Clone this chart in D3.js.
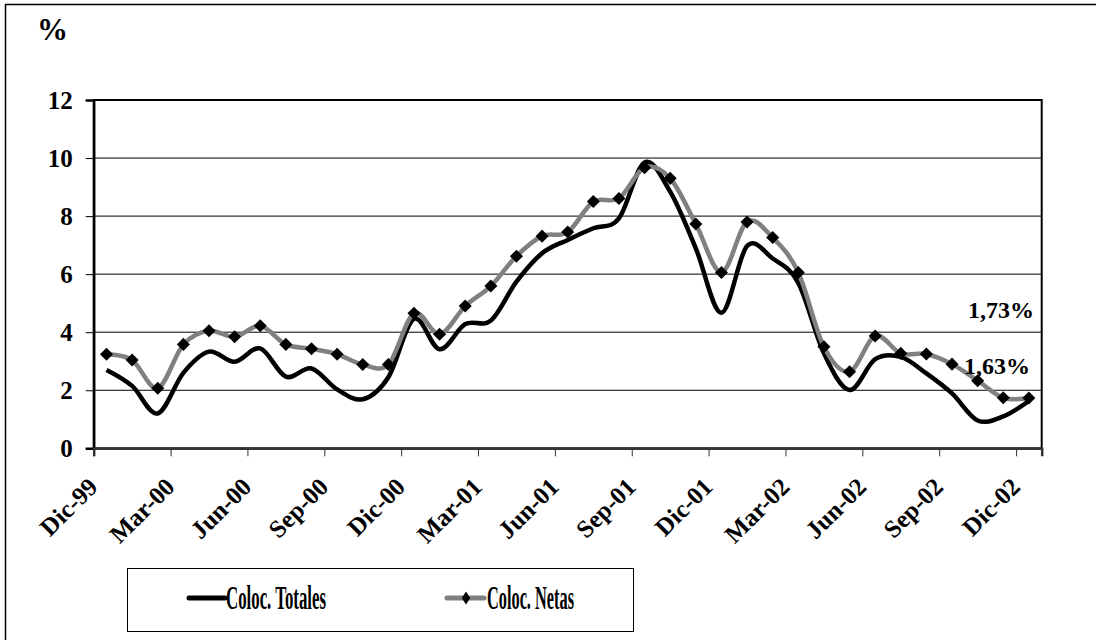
<!DOCTYPE html>
<html>
<head>
<meta charset="utf-8">
<script src="https://cdnjs.cloudflare.com/ajax/libs/d3/7.8.5/d3.min.js"></script>
<title>Colocaciones</title>
<style>
  body{ margin: 0; background-color: #fff; }
  text{ font-family: "Liberation Serif", "Times New Roman", serif; font-weight: bold; fill: #000; }
</style>
</head>
<body>
<script>
var cats = ["Dic-99","Ene-00","Feb-00","Mar-00","Abr-00","May-00","Jun-00","Jul-00","Ago-00","Sep-00","Oct-00","Nov-00",
            "Dic-00","Ene-01","Feb-01","Mar-01","Abr-01","May-01","Jun-01","Jul-01","Ago-01","Sep-01","Oct-01","Nov-01",
            "Dic-01","Ene-02","Feb-02","Mar-02","Abr-02","May-02","Jun-02","Jul-02","Ago-02","Sep-02","Oct-02","Nov-02","Dic-02"];

var totales = [2.70, 2.15, 1.20, 2.60, 3.33, 2.98, 3.44, 2.47, 2.75, 2.03, 1.69, 2.45,
               4.46, 3.41, 4.28, 4.40, 5.74, 6.72, 7.18, 7.58, 7.92, 9.85, 8.84, 6.89,
               4.67, 6.97, 6.54, 5.70, 3.27, 2.01, 3.07, 3.15, 2.58, 1.89, 0.96, 1.10, 1.63];

var netas   = [3.24, 3.04, 2.07, 3.58, 4.05, 3.84, 4.22, 3.58, 3.43, 3.24, 2.89, 2.89,
               4.65, 3.93, 4.90, 5.59, 6.62, 7.31, 7.45, 8.50, 8.61, 9.67, 9.30, 7.73,
               6.06, 7.80, 7.26, 6.06, 3.50, 2.64, 3.87, 3.27, 3.25, 2.90, 2.33, 1.74, 1.73];

var yTicks = [0, 2, 4, 6, 8, 10, 12];
var xTicks = [0, 3, 6, 9, 12, 15, 18, 21, 24, 27, 30, 33, 36];
var seriesNames = ["Coloc. Totales", "Coloc. Netas"];
var endLabels = ["1,73%", "1,63%"];

var w = 1096, h = 640,
    pLeft = 93.7, pRight = 1041.7, pTop = 100, pBottom = 448.3;

var svg = d3.select("body").append("svg")
    .attr("width", w)
    .attr("height", h);

svg.append("rect").attr("width", w).attr("height", h).attr("fill", "#fff");

// outer chart border (runs off the right and bottom edge)
svg.append("path")
    .attr("d", "M5.5," + h + "V4.5H" + w)
    .attr("fill", "none").attr("stroke", "#000").attr("stroke-width", 1.5);

var x = d3.scaleLinear().domain([0, cats.length]).range([pLeft, pRight]);
var y = d3.scaleLinear().domain([0, 12]).range([pBottom, pTop]);

// gridlines
svg.append("g").selectAll("line")
  .data(yTicks.slice(1, -1))
  .enter().append("line")
    .attr("x1", pLeft).attr("x2", pRight)
    .attr("y1", function(d){ return y(d); })
    .attr("y2", function(d){ return y(d); })
    .attr("stroke", "#000").attr("stroke-width", 1);

// plot frame
svg.append("rect")
    .attr("x", pLeft).attr("y", pTop)
    .attr("width", pRight - pLeft).attr("height", pBottom - pTop)
    .attr("fill", "none").attr("stroke", "#000").attr("stroke-width", 2);

// y axis
var yAxis = svg.append("g")
    .attr("transform", "translate(" + pLeft + ",0)")
    .call(d3.axisLeft(y).tickValues(yTicks).tickSize(8).tickPadding(13).tickFormat(function(d){ return d; }));
yAxis.select(".domain").attr("stroke-width", 2.5);
yAxis.selectAll("text").style("font-size", "25px").attr("dy", "0.34em");

// x axis
var xAxis = svg.append("g")
    .attr("transform", "translate(0," + pBottom + ")")
    .call(d3.axisBottom(x).tickValues(xTicks).tickSize(8).tickFormat(function(i){ return cats[i]; }));
xAxis.select(".domain").attr("stroke", "#333").attr("stroke-width", 2.5);
xAxis.selectAll(".tick line").attr("stroke", "#333");
xAxis.selectAll("text")
    .style("font-size", "25px")
    .attr("text-anchor", "end")
    .attr("x", 5).attr("y", 40).attr("dy", 0)
    .attr("transform", "rotate(-45,5,40)");

// % label
svg.append("text").attr("x", 37).attr("y", 40).style("font-size", "31px").text("%");

// lines
var line = d3.line()
    .x(function(d, i){ return x(i + 0.5); })
    .y(function(d){ return y(d); })
    .curve(d3.curveCardinal.tension(0));

svg.append("path").datum(totales)
    .attr("d", line)
    .attr("fill", "none").attr("stroke", "#000").attr("stroke-width", 4.5)
    .attr("stroke-linejoin", "round");

svg.append("path").datum(netas)
    .attr("d", line)
    .attr("fill", "none").attr("stroke", "#808080").attr("stroke-width", 4.5)
    .attr("stroke-linejoin", "round");

var diamond = d3.symbol().type(d3.symbolSquare).size(85);
svg.append("g").selectAll("path")
  .data(netas)
  .enter().append("path")
    .attr("d", diamond)
    .attr("transform", function(d, i){ return "translate(" + x(i + 0.5) + "," + y(d) + ") rotate(45)"; })
    .attr("fill", "#000");

// end labels
var last = cats.length - 0.5;
svg.append("text")
    .attr("x", x(last) + 5).attr("y", y(netas[netas.length - 1]) - 80)
    .attr("text-anchor", "end").style("font-size", "24px")
    .text(endLabels[0]);
svg.append("text")
    .attr("x", x(last) + 1).attr("y", y(totales[totales.length - 1]) - 27)
    .attr("text-anchor", "end").style("font-size", "24px")
    .text(endLabels[1]);

// legend
var lg = svg.append("g");
lg.append("rect")
    .attr("x", 127.5).attr("y", 568.5).attr("width", 506).attr("height", 63)
    .attr("fill", "#fff").attr("stroke", "#000").attr("stroke-width", 1);

lg.append("line").attr("x1", 189).attr("x2", 225).attr("y1", 598).attr("y2", 598)
    .attr("stroke", "#000").attr("stroke-width", 5).attr("stroke-linecap", "round");
lg.append("text").attr("x", 226).attr("y", 609)
    .attr("textLength", 100).attr("lengthAdjust", "spacingAndGlyphs")
    .style("font-size", "34px").text(seriesNames[0]);

lg.append("line").attr("x1", 447).attr("x2", 484).attr("y1", 598).attr("y2", 598)
    .attr("stroke", "#808080").attr("stroke-width", 5).attr("stroke-linecap", "round");
lg.append("path")
    .attr("d", "M466,591.5L470.2,598L466,604.5L461.8,598Z")
    .attr("fill", "#000");
lg.append("text").attr("x", 487).attr("y", 609)
    .attr("textLength", 87).attr("lengthAdjust", "spacingAndGlyphs")
    .style("font-size", "34px").text(seriesNames[1]);
</script>
</body>
</html>
